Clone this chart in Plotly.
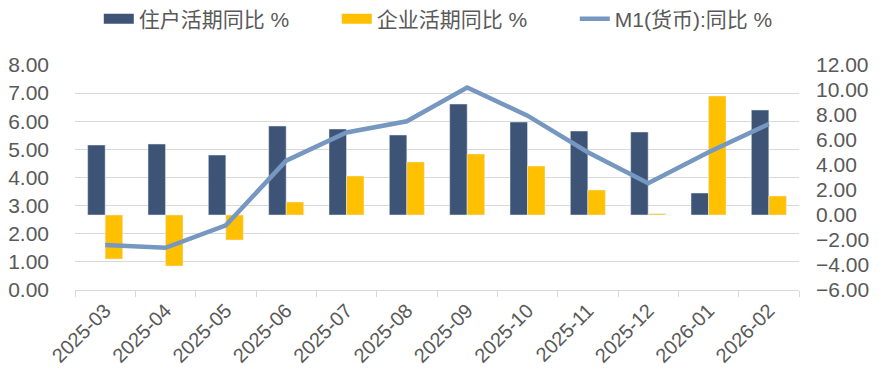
import plotly.graph_objects as go

months = ["2025-03", "2025-04", "2025-05", "2025-06", "2025-07", "2025-08",
          "2025-09", "2025-10", "2025-11", "2025-12", "2026-01", "2026-02"]
household = [5.6, 5.68, 4.8, 7.12, 6.88, 6.4, 8.88, 7.44, 6.72, 6.64, 1.76, 8.4]
enterprise = [-3.52, -4.08, -2.0, 1.04, 3.12, 4.24, 4.88, 3.92, 2.0, 0.1, 9.52, 1.52]
m1 = [1.6, 1.5, 2.3, 4.6, 5.6, 6.0, 7.2, 6.2, 4.9, 3.8, 4.9, 5.9]

names = ["住户活期同比 %", "企业活期同比 %", "M1(货币):同比 %"]
colors = ["#3E5477", "#FFC000", "#7597C0"]

font_family = "Liberation Sans, Arial, Noto Sans CJK SC, sans-serif"
txt = "#595959"

fig = go.Figure()
fig.add_trace(go.Bar(x=months, y=household, name=names[0], showlegend=False,
                     marker_color=colors[0], yaxis="y"))
fig.add_trace(go.Bar(x=months, y=enterprise, name=names[1], showlegend=False,
                     marker_color=colors[1], yaxis="y"))
# legend-only entries drawn as wide rectangles, like the reference legend
fig.add_trace(go.Scatter(x=[None], y=[None], mode="lines", name=names[0],
                         line=dict(color=colors[0], width=11), yaxis="y"))
fig.add_trace(go.Scatter(x=[None], y=[None], mode="lines", name=names[1],
                         line=dict(color=colors[1], width=11), yaxis="y"))
fig.add_trace(go.Scatter(x=months, y=m1, name=names[2], mode="lines",
                         line=dict(color=colors[2], width=4.5), yaxis="y2"))

fig.update_layout(
    width=882, height=383,
    margin=dict(l=75, r=83, t=65, b=93),
    paper_bgcolor="white", plot_bgcolor="white",
    font=dict(family=font_family, color=txt, size=21),
    barmode="group", bargap=0.42, bargroupgap=0,
    showlegend=True,
    legend=dict(orientation="h", xref="container", yref="container",
                x=0.112, xanchor="left", y=0.95, yanchor="middle",
                font=dict(size=21, color=txt), traceorder="normal",
                entrywidth=193, entrywidthmode="pixels"),
    xaxis=dict(type="category", showgrid=False, showline=True, linecolor="#D9D9D9",
               linewidth=1, ticks="outside", tickson="boundaries", ticklen=6,
               tickcolor="#D9D9D9", tickangle=-45, tickfont=dict(size=20, color=txt),
               anchor="y2", automargin=False),
    yaxis=dict(side="right", range=[-6, 12], dtick=2, tick0=-6, tickformat=".2f",
               showgrid=False, zeroline=False, showline=False, automargin=False,
               tickfont=dict(size=21, color=txt), ticklabelstandoff=16),
    yaxis2=dict(side="left", overlaying="y", range=[0, 8], dtick=1, tickformat=".2f",
                showgrid=True, gridcolor="#D9D9D9", gridwidth=1, zeroline=False,
                showline=False, automargin=False,
                tickfont=dict(size=21, color=txt), ticklabelstandoff=25),
)

fig.write_html("out.html", config={"displayModeBar": False},
               post_script="document.body.style.margin='0';")
